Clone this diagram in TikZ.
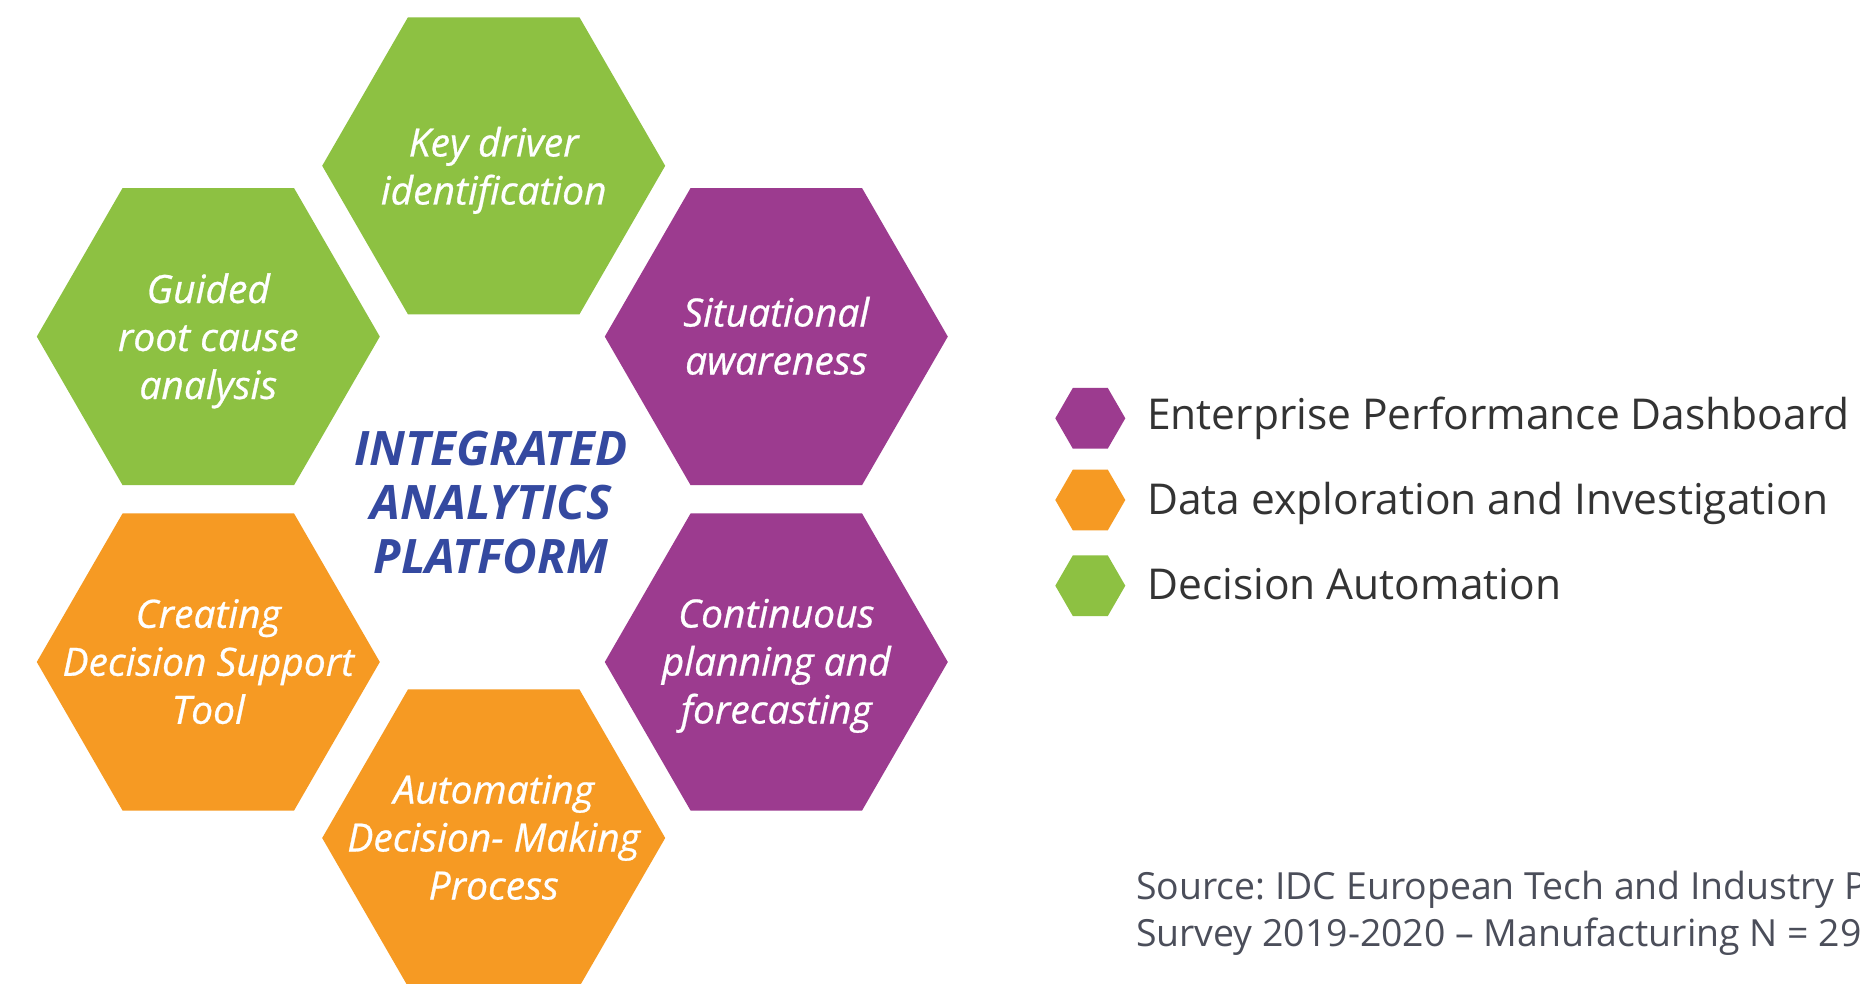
\documentclass[tikz,border=0pt]{standalone}
\usepackage{fontspec}
\setmainfont{Open Sans}
\newfontfamily\hexfont{Open Sans}[ItalicFeatures={FakeBold=0.7}]
\usetikzlibrary{shapes.geometric}
\frenchspacing
\definecolor{hgreen}{HTML}{8DC142}
\definecolor{hpurple}{HTML}{9C3B8F}
\definecolor{horange}{HTML}{F69A23}
\definecolor{tblue}{HTML}{3449A0}
\definecolor{tdark}{HTML}{333333}
\definecolor{tgray}{HTML}{4B4E5A}
\tikzset{
  hexbox/.style={regular polygon, regular polygon sides=6, minimum size=343pt, inner sep=0pt, outer sep=0pt, draw=none, fill=#1},
  hexlabel/.style={anchor=base, align=center, text=white, inner sep=0pt, font=\fontsize{39}{48}\hexfont\itshape},
  keyhex/.style={regular polygon, regular polygon sides=6, minimum size=70pt, inner sep=0pt, outer sep=0pt, draw=none, fill=#1},
  keytext/.style={anchor=base west, inner sep=0pt, text=tdark, font=\fontsize{42.5}{50}\selectfont},
}
\begin{document}
\begin{tikzpicture}[x=1pt,y=-1pt]
\clip (0,0) rectangle (1860,984);
\fill[white] (0,0) rectangle (1860,984);
% hexagons
\node[hexbox=hgreen]  (hkd)  at (493.7,165.8) {};
\node[hexbox=hgreen]  (hgr)  at (208.3,336.6) {};
\node[hexbox=hpurple] (hsa)  at (776.3,336.6) {};
\node[hexbox=horange] (hcd)  at (208.3,662) {};
\node[hexbox=hpurple] (hcp)  at (776.3,662) {};
\node[hexbox=horange] (had)  at (493.7,838) {};
% labels (anchored at the baseline of the last line)
\node[hexlabel] (lkd) at (493.7,204.5) {Key driver\\identification};
\node[hexlabel] (lgr) at (208.3,399) {Guided\\root cause\\analysis};
\node[hexlabel] (lsa) at (776.3,374.5) {Situational\\awareness};
\node[hexlabel] (lcd) at (208.3,723.8) {Creating\\Decision Support\\Tool};
\node[hexlabel] (lcp) at (776.3,723.5) {Continuous\\planning and\\forecasting};
\node[hexlabel] (lad) at (493.7,899.5) {Automating\\Decision- Making\\Process};
\node[anchor=base, align=center, inner sep=0pt, text=tblue, font=\fontsize{47.5}{54}\selectfont\bfseries\itshape] (title) at (491,573.3) {INTEGRATED\\ANALYTICS\\PLATFORM};
% legend
\node[keyhex=hpurple] (k1) at (1090.3,418.3) {};
\node[keyhex=horange] (k2) at (1090.3,500) {};
\node[keyhex=hgreen]  (k3) at (1090.3,585.7) {};
\node[keytext] (t1) at (1147,429.3) {Enterprise Performance Dashboard};
\node[keytext] (t2) at (1147,514) {Data exploration and Investigation};
\node[keytext] (t3) at (1147,599.5) {Decision Automation};
% source
\node[anchor=base west, align=left, inner sep=0pt, text=tgray, font=\fontsize{37.4}{47.5}\selectfont] (src) at (1136,946.5) {Source: IDC European Tech and Industry P\\Survey 2019-2020 -- Manufacturing N = 29};
\end{tikzpicture}
\end{document}
